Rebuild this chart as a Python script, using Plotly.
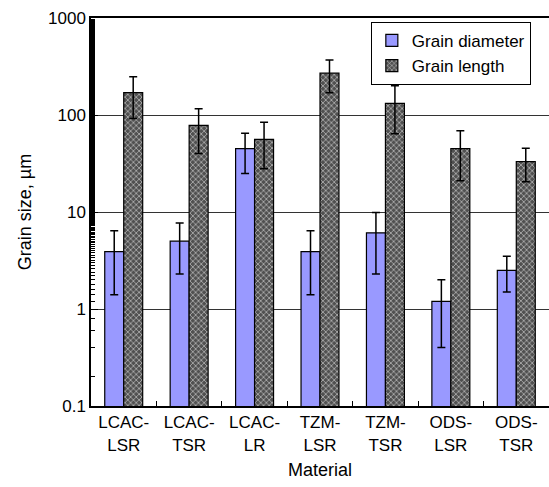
import plotly.graph_objects as go

materials = ["LCAC-<br>LSR", "LCAC-<br>TSR", "LCAC-<br>LR", "TZM-<br>LSR", "TZM-<br>TSR", "ODS-<br>LSR", "ODS-<br>TSR"]
grain_diameter = [3.9, 5.0, 45, 3.9, 6.1, 1.2, 2.5]
diameter_err = [2.5, 2.7, 20, 2.5, 3.8, 0.8, 1.0]
grain_length = [170, 78, 56, 270, 132, 45, 33]
length_err = [78, 38, 28, 100, 68, 24, 12.5]
y_tickvals = [0.1, 1, 10, 100, 1000]
y_ticktext = ["0.1", "1", "10", "100", "1000"]

FONT = "Liberation Sans, Arial, sans-serif"

fig = go.Figure()
fig.add_trace(go.Bar(
    name="Grain diameter", x=materials, y=grain_diameter,
    marker=dict(color="#9999FF", line=dict(color="black", width=1.2)),
    error_y=dict(type="data", array=diameter_err, visible=True,
                 color="black", thickness=1.5, width=4),
))
fig.add_trace(go.Bar(
    name="Grain length", x=materials, y=grain_length,
    marker=dict(color="#505050", line=dict(color="black", width=1.2),
                pattern=dict(shape="x", fgcolor="#e6e6e6", bgcolor="#505050",
                             size=4, solidity=0.25, fillmode="replace")),
    error_y=dict(type="data", array=length_err, visible=True,
                 color="black", thickness=1.5, width=4),
))

fig.update_layout(
    width=549, height=487,
    margin=dict(l=91, r=0, t=18, b=81),
    paper_bgcolor="white", plot_bgcolor="white",
    barmode="group", bargap=0.42, bargroupgap=0,
    font=dict(family=FONT, size=17, color="black"),
    legend=dict(x=0.611, y=0.99, xanchor="left", yanchor="top",
                bordercolor="black", borderwidth=1, bgcolor="white",
                font=dict(size=17), tracegroupgap=4, itemwidth=30),
    showlegend=True,
)
fig.update_xaxes(
    title=dict(text="Material", font=dict(size=18), standoff=10),
    showline=True, linecolor="black", linewidth=2, mirror=True,
    ticks="inside", tickson="boundaries", ticklen=5, tickcolor="black",
    tickfont=dict(size=17), showgrid=False,
)
fig.update_yaxes(
    type="log", range=[-1, 3],
    title=dict(text="Grain size, µm", font=dict(size=18), standoff=12),
    tickvals=y_tickvals, ticktext=y_ticktext,
    showline=True, linecolor="black", linewidth=1.5,
    ticks="inside", ticklen=7, tickcolor="black",
    minor=dict(ticks="inside", ticklen=4, tickcolor="black", showgrid=False),
    showgrid=True, gridcolor="#333333", gridwidth=1,
    tickfont=dict(size=17), zeroline=False,
)

fig.write_html("out.html")
